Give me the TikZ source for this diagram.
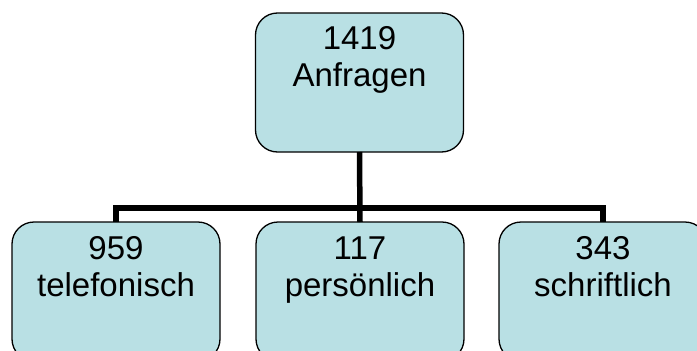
\documentclass[tikz,border=0pt]{standalone}
\usepackage{fontspec}
\setmainfont{Liberation Sans}
\definecolor{boxfill}{HTML}{B9E0E4}
\begin{document}
\begin{tikzpicture}[x=1pt,y=-1pt,
  box/.style={draw=black,line width=1.3pt,fill=boxfill,rounded corners=22pt,
    minimum width=208pt,minimum height=139pt,inner sep=0pt,outer sep=0pt},
  boxtext/.style={anchor=north,font=\fontsize{33}{37}\selectfont,align=center,inner sep=0pt},
  conn/.style={line width=5.5pt}]
\useasboundingbox (0,0) rectangle (697,351);
\clip (0,0) rectangle (697,351);
\node[box] (top) at (359.5,82.5) {};
\node[box] (left) at (116,291.5) {};
\node[box] (mid) at (360,291.5) {};
\node[box] (right) at (603,291.5) {};
\node[boxtext] (ttop) at (359.5,26.5) {1419\\Anfragen};
\node[boxtext] (tleft) at (116,236.5) {959\\telefonisch};
\node[boxtext] (tmid) at (360,236.5) {117\\persönlich};
\node[boxtext] (tright) at (603,236.5) {343\\schriftlich};
\coordinate (j) at (top.south |- 0,208);
\draw[conn] (top.south) -- (mid.north);
\draw[conn] (left.north) |- (j) -| (right.north);
\end{tikzpicture}
\end{document}
